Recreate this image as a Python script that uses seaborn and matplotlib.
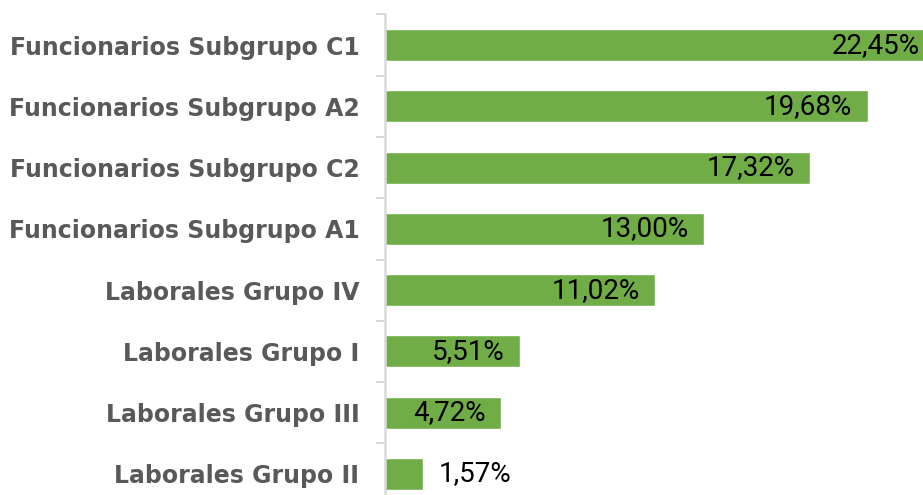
import matplotlib
matplotlib.use("Agg")
import matplotlib.pyplot as plt
import seaborn as sns
import pandas as pd

# Data
categories = ["Funcionarios Subgrupo C1", "Funcionarios Subgrupo A2", "Funcionarios Subgrupo C2",
              "Funcionarios Subgrupo A1", "Laborales Grupo IV", "Laborales Grupo I",
              "Laborales Grupo III", "Laborales Grupo II"]
values = [22.45, 19.68, 17.32, 13.00, 11.02, 5.51, 4.72, 1.57]
value_labels = ["22,45%", "19,68%", "17,32%", "13,00%", "11,02%", "5,51%", "4,72%", "1,57%"]

df = pd.DataFrame({"grupo": categories, "pct": values})

sns.set_style("white")

fig = plt.figure(figsize=(9.23, 4.95), dpi=100)
# axes runs past the right and bottom edges, like the cropped original
ax = fig.add_axes([385 / 923, -9.6 / 495, 613 / 923, 490.2 / 495])

sns.barplot(data=df, y="grupo", x="pct", orient="h", color="#70AD47",
            saturation=1, width=0.52, ax=ax)

ax.set_xlim(0, 25)
ax.set_ylim(7.5, -0.5)
ax.set_xlabel("")
ax.set_ylabel("")
ax.set_xticks([])

for side in ["top", "right", "bottom"]:
    ax.spines[side].set_visible(False)
ax.spines["left"].set_color("#d9d9d9")
ax.spines["left"].set_linewidth(1.8)
ax.spines["left"].set_zorder(5)

# category labels
ax.tick_params(axis="y", which="major", left=False, length=0, pad=18.5)
for lab in ax.get_yticklabels():
    lab.set_fontsize(17)
    lab.set_fontweight("bold")
    lab.set_color("#595959")
    lab.set_family("DejaVu Sans")

# small ticks between categories
ax.set_yticks([i - 0.5 for i in range(len(categories) + 1)], minor=True)
ax.tick_params(axis="y", which="minor", left=True, length=6.5, width=1.5,
               color="#d9d9d9", direction="out")

# value labels
for i, (v, txt) in enumerate(zip(values, value_labels)):
    if v > 3:
        ax.annotate(txt, xy=(v, i), xytext=(-11, 0), textcoords="offset points",
                    ha="right", va="center", fontsize=20, family="Roboto", color="#000000")
    else:
        ax.annotate(txt, xy=(v, i), xytext=(11, 0), textcoords="offset points",
                    ha="left", va="center", fontsize=20, family="Roboto", color="#000000")

fig.savefig("out.png", dpi=100)
